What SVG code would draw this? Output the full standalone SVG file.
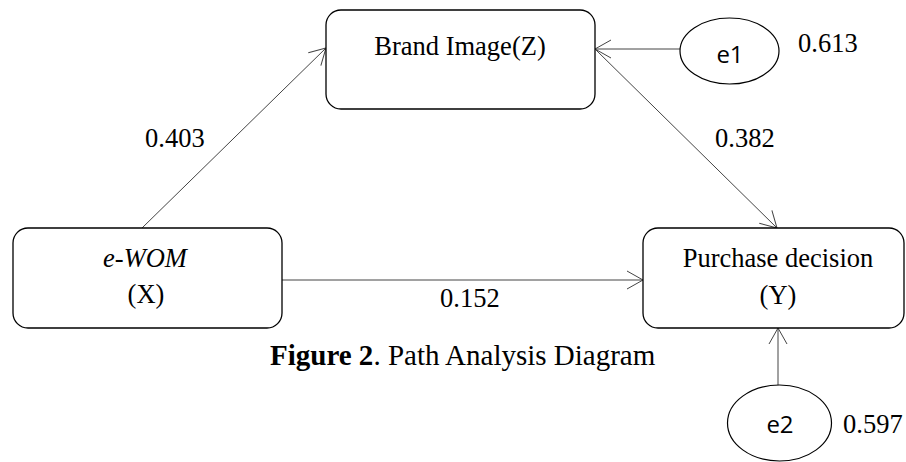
<svg xmlns="http://www.w3.org/2000/svg" width="906" height="462" viewBox="0 0 906 462">
<style>
.box{fill:#fff;stroke:#000;stroke-width:1.3}
.ell{fill:#fff;stroke:#000;stroke-width:1.2}
.t{font-family:"Liberation Serif","Times New Roman",serif;font-size:26.5px;fill:#000}
.cap{font-family:"Liberation Serif","Times New Roman",serif;font-size:29px;fill:#000}
.s{font-family:"Open Sans","Liberation Sans",sans-serif;font-size:24px;fill:#000}
.c{text-anchor:middle}
.ln{stroke:#444;stroke-width:1;fill:none;marker-end:url(#arr)}
</style>
<defs>
<marker id="arr" markerUnits="userSpaceOnUse" markerWidth="20" markerHeight="22" viewBox="-18 -11 20 22" refX="0" refY="0" orient="auto">
<path d="M-16,-9 L0,0 L-16,9" fill="none" stroke="#444" stroke-width="1"/>
</marker>
</defs>
<rect width="906" height="462" fill="#fff"/>
<g id="connectors">
<line class="ln" x1="142" y1="228" x2="326" y2="48"/>
<line class="ln" x1="680" y1="49" x2="595" y2="49"/>
<line class="ln" x1="595" y1="49" x2="777" y2="228"/>
<line class="ln" x1="282" y1="280" x2="643" y2="280"/>
<line class="ln" x1="778" y1="385" x2="778" y2="328"/>
</g>
<g id="brand">
<rect class="box" x="326" y="10" width="269" height="99" rx="15"/>
<text class="t c" x="460" y="55">Brand Image(Z)</text>
</g>
<g id="e1">
<ellipse class="ell" cx="729.5" cy="51" rx="49.5" ry="33"/>
<text class="s c" x="730" y="63">e1</text>
</g>
<g id="ewom">
<rect class="box" x="13" y="228" width="269" height="100" rx="15"/>
<text class="t c" x="145" y="267" style="font-style:italic">e-WOM</text>
<text class="t c" x="146" y="303">(X)</text>
</g>
<g id="purchase">
<rect class="box" x="643" y="228" width="261" height="100" rx="15"/>
<text class="t c" x="778" y="267">Purchase decision</text>
<text class="t c" x="778" y="304">(Y)</text>
</g>
<g id="e2">
<ellipse class="ell" cx="779.5" cy="423" rx="52" ry="38"/>
<text class="s c" x="780" y="433">e2</text>
</g>
<g id="labels">
<text class="t" x="798" y="52">0.613</text>
<text class="t" x="715" y="147">0.382</text>
<text class="t" x="145" y="147">0.403</text>
<text class="t" x="440" y="307">0.152</text>
<text class="t" x="843" y="433">0.597</text>
<text class="cap" x="270" y="365"><tspan style="font-weight:bold">Figure 2</tspan>. Path Analysis Diagram</text>
</g>
</svg>
